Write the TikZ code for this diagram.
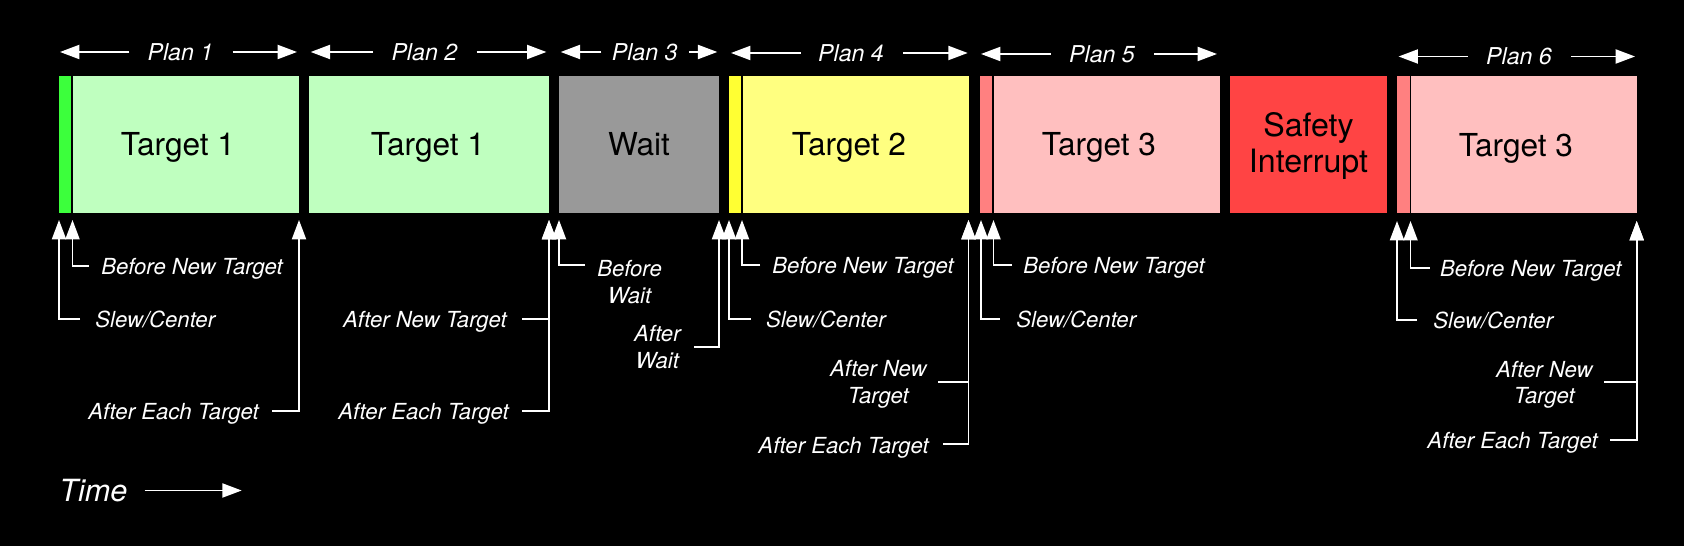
\documentclass[tikz,border=0pt]{standalone}
\usepackage{fontspec}
\setmainfont{TeX Gyre Heros}
\usepackage{tikz}
\usetikzlibrary{arrows.meta,calc}
\definecolor{tgtgreen}{HTML}{BFFFBF}
\definecolor{slwgreen}{HTML}{3CFF3C}
\definecolor{waitgrey}{HTML}{999999}
\definecolor{tgtyellow}{HTML}{FFFF80}
\definecolor{slwyellow}{HTML}{FFFF33}
\definecolor{tgtpink}{HTML}{FFBFBF}
\definecolor{slwpink}{HTML}{FF8080}
\definecolor{safered}{HTML}{FF4444}

\begin{document}
\begin{tikzpicture}[x=0.02cm, y=-0.02cm,
		boxtext/.style={text=black, font=\fontsize{18}{21}\selectfont, inner sep=0pt, text height=12.9pt, text depth=0pt},
		boxtwo/.style={text=black, font=\fontsize{18.3}{20.8}\selectfont, inner sep=0pt, align=center},
		plan/.style={text=white, font=\fontsize{13.2}{15}\selectfont\itshape, inner sep=0pt, text height=9.4pt, text depth=0pt},
		lbl/.style={text=white, font=\fontsize{12.6}{15.1}\selectfont\itshape, inner sep=0pt, text height=10.2pt, text depth=0pt},
		lbltwo/.style={text=white, font=\fontsize{12.6}{15.1}\selectfont\itshape, inner sep=0pt, align=center},
		flow/.style={draw=white, line width=1pt, -{Triangle[length=11pt,width=8pt]}}]
			%%%%% START %%%%%
			\useasboundingbox (0,0) rectangle (1684,546);
			\fill[black] (0,0) rectangle (1684,546);
			
			% blocks
			\fill[slwgreen] (59,76) rectangle (71,212.7);
			\fill[tgtgreen] (72.7,76) rectangle (299,212.7);
			\node[boxtext] (t1) at (178,144.3) {Target 1};
			
			\fill[tgtgreen] (309,76) rectangle (549,212.7);
			\node[boxtext] (t2) at (428,144.3) {Target 1};
			
			\fill[waitgrey] (559,76) rectangle (719,212.7);
			\node[boxtext] (t3) at (639,144.3) {Wait};
			
			\fill[slwyellow] (729,76) rectangle (741,212.7);
			\fill[tgtyellow] (742.7,76) rectangle (969,212.7);
			\node[boxtext] (t4) at (849,144.3) {Target 2};
			
			\fill[slwpink] (980,76) rectangle (992,212.7);
			\fill[tgtpink] (993.7,76) rectangle (1220,212.7);
			\node[boxtext] (t5) at (1099,144.3) {Target 3};
			
			\fill[safered] (1230,76) rectangle (1386.7,212.7);
			\node[boxtwo] (si) at (1308.5,146) {Safety\\Interrupt};
			
			\fill[slwpink] (1396.5,76.5) rectangle (1409.5,213);
			\fill[tgtpink] (1411,76.5) rectangle (1637,213);
			\node[boxtext] (t6) at (1516,144.8) {Target 3};
			
			% plans
			\node[plan] (p1) at (180.5,52) {Plan 1};
			\coordinate (p1l) at (60,52);
			\coordinate (p1r) at (297,52);
			\draw[flow] ([xshift=-0.36cm]p1.west) -- (p1l);
			\draw[flow] ([xshift=0.38cm]p1.east) -- (p1r);
			
			\node[plan] (p2) at (424.4,52) {Plan 2};
			\coordinate (p2l) at (310.7,52);
			\coordinate (p2r) at (546.4,52);
			\draw[flow] ([xshift=-0.36cm]p2.west) -- (p2l);
			\draw[flow] ([xshift=0.38cm]p2.east) -- (p2r);
			
			\node[plan] (p3) at (644.7,52) {Plan 3};
			\coordinate (p3l) at (560.7,52);
			\coordinate (p3r) at (717.3,52);
			\draw[flow] ([xshift=-0.2cm]p3.west) -- (p3l);
			\draw[flow] ([xshift=0.22cm]p3.east) -- (p3r);
			
			\node[plan] (p4) at (851,53) {Plan 4};
			\coordinate (p4l) at (731,53);
			\coordinate (p4r) at (967.7,53);
			\draw[flow] ([xshift=-0.34cm]p4.west) -- (p4l);
			\draw[flow] ([xshift=0.38cm]p4.east) -- (p4r);
			
			\node[plan] (p5) at (1102,54) {Plan 5};
			\coordinate (p5l) at (981,54);
			\coordinate (p5r) at (1217,54);
			\draw[flow] ([xshift=-0.36cm]p5.west) -- (p5l);
			\draw[flow] ([xshift=0.38cm]p5.east) -- (p5r);
			
			\node[plan] (p6) at (1519,56.5) {Plan 6};
			\coordinate (p6l) at (1398.6,56.5);
			\coordinate (p6r) at (1635,56.5);
			\draw[flow] ([xshift=-0.36cm]p6.west) -- (p6l);
			\draw[flow] ([xshift=0.38cm]p6.east) -- (p6r);
			
			% trigger points
			\coordinate (s1) at (59,220);
			\coordinate (b1) at (72.5,220);
			\coordinate (e1) at (299,220);
			\coordinate (e2) at (549,220);
			\coordinate (bw) at (559,220);
			\coordinate (aw) at (719,220);
			\coordinate (s4) at (729,220);
			\coordinate (b4) at (742,220);
			\coordinate (e4) at (968.5,220);
			\coordinate (s5) at (981,220);
			\coordinate (b5) at (993.5,220);
			\coordinate (s6) at (1397,221);
			\coordinate (b6) at (1410.5,221);
			\coordinate (e6) at (1636.7,221);
			
			% plan 1
			\node[lbl, anchor=west] (before1) at (101,266) {Before New Target};
			\node[lbl, anchor=west] (slew1) at (95,319) {Slew/Center};
			\node[lbl, anchor=east] (each1) at (259,410.7) {After Each Target};
			\draw[flow] ([xshift=-0.24cm]before1.west) -| (b1);
			\draw[flow] ([xshift=-0.3cm]slew1.west) -| (s1);
			\draw[flow] ([xshift=0.26cm]each1.east) -| (e1);
			
			% plan 2
			\node[lbl, anchor=east] (new2) at (507,318.7) {After New Target};
			\node[lbl, anchor=east] (each2) at (509,410.7) {After Each Target};
			\draw[flow] ([xshift=0.3cm]new2.east) -| (e2);
			\draw[flow] ([xshift=0.26cm]each2.east) -| (e2);
			
			% plan 3
			\node[lbltwo, anchor=north west] (bwait) at (597,260) {Before\\Wait};
			\node[lbltwo, anchor=east] (await) at (681,347) {After\\Wait};
			\draw[flow] ([xshift=-0.24cm,yshift=-3pt]bwait.north west) -| (bw);
			\draw[flow] ([xshift=0.26cm]await.east) -| (aw);
			
			% plan 4
			\node[lbl, anchor=west] (before4) at (772,265) {Before New Target};
			\node[lbl, anchor=west] (slew4) at (765.7,318.7) {Slew/Center};
			\node[lbltwo, anchor=east] (new4) at (927,384.4) {After New\\Target};
			\node[lbl, anchor=east] (each4) at (929,444.3) {After Each Target};
			\draw[flow] ([xshift=-0.24cm]before4.west) -| (b4);
			\draw[flow] ([xshift=-0.3cm]slew4.west) -| (s4);
			\draw[flow] ([xshift=0.22cm,yshift=1.5pt]new4.east) -| (e4);
			\draw[flow] ([xshift=0.28cm]each4.east) -| (e4);
			
			% plan 5
			\node[lbl, anchor=west] (before5) at (1023,265) {Before New Target};
			\node[lbl, anchor=west] (slew5) at (1016,319) {Slew/Center};
			\draw[flow] ([xshift=-0.22cm]before5.west) -| (b5);
			\draw[flow] ([xshift=-0.32cm]slew5.west) -| (s5);
			
			% plan 6
			\node[lbl, anchor=west] (before6) at (1439.7,267.7) {Before New Target};
			\node[lbl, anchor=west] (slew6) at (1433,320) {Slew/Center};
			\node[lbltwo, anchor=east] (new6) at (1593,385) {After New\\Target};
			\node[lbl, anchor=east] (each6) at (1598,440) {After Each Target};
			\draw[flow] ([xshift=-0.2cm]before6.west) -| (b6);
			\draw[flow] ([xshift=-0.32cm]slew6.west) -| (s6);
			\draw[flow] ([xshift=0.22cm,yshift=1.5pt]new6.east) -| (e6);
			\draw[flow] ([xshift=0.24cm]each6.east) -| (e6);
			
			% time axis
			\node[anchor=west, text=white, font=\fontsize{17.4}{20}\selectfont\itshape, inner sep=0pt, text height=12.5pt, text depth=0pt] (tm) at (59,490.5) {Time};
			\coordinate (tmend) at (241.7,490.5);
			\draw[flow] ([xshift=0.34cm]tm.east) -- (tmend);
			%%%%% END %%%%%
		\end{tikzpicture}
\end{document}
